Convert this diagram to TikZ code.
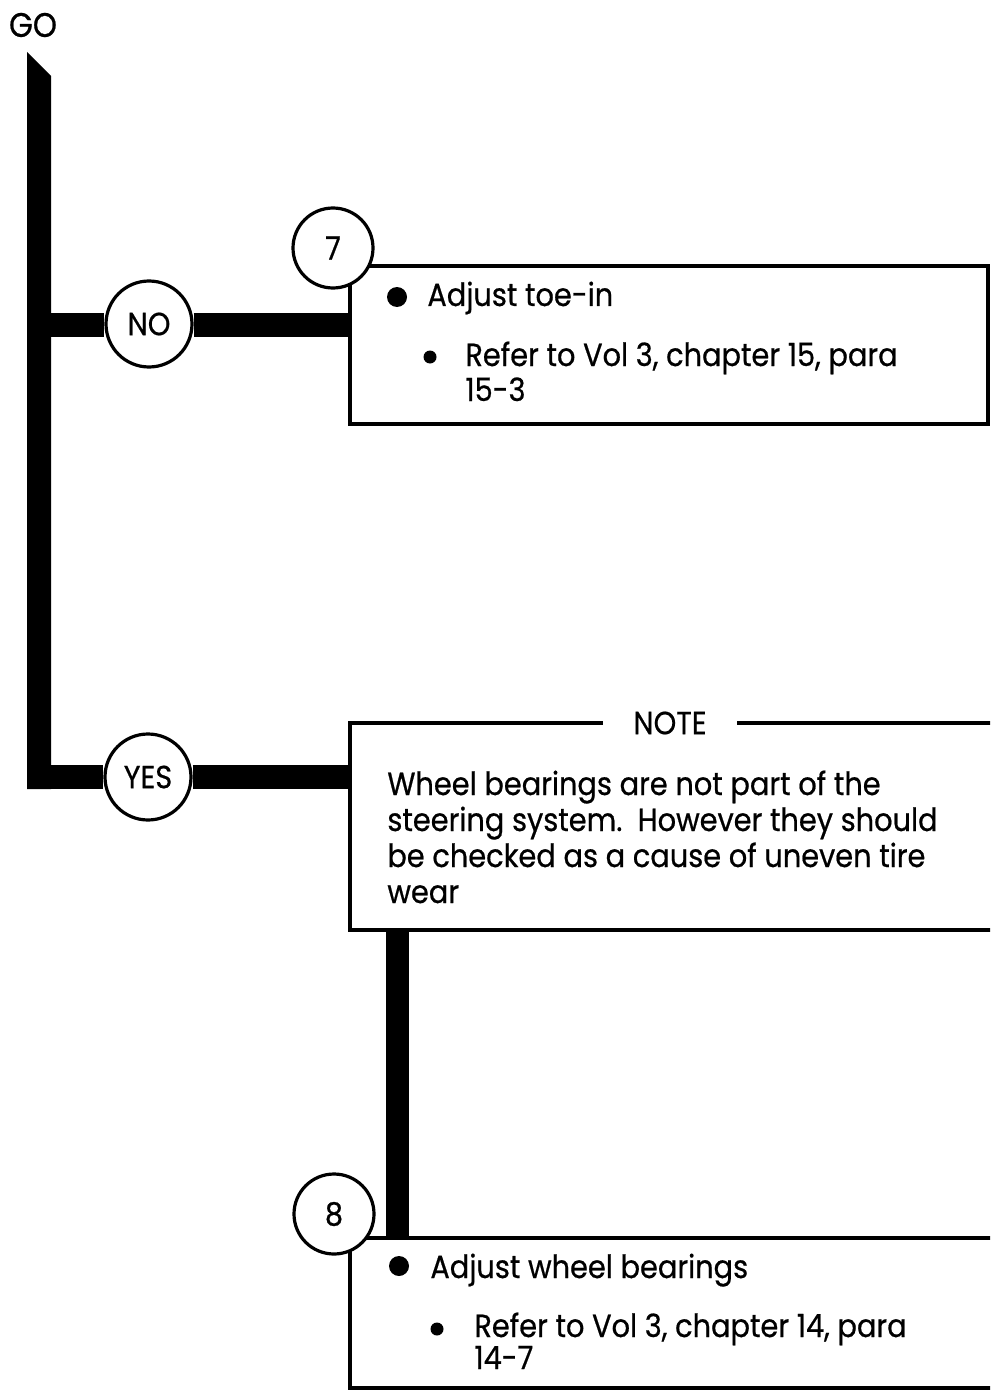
\documentclass[tikz,border=0pt]{standalone}
\usepackage{fontspec}
\setmainfont{Poppins}[FakeStretch=0.9, FakeBold=0.6]
\usetikzlibrary{positioning, backgrounds}

\newcommand{\chartfont}{\fontsize{16}{18}\selectfont}

\begin{document}
\begin{tikzpicture}[
    x=0.5pt, y=-0.5pt,
    bar/.style={line width=12pt},
    frame/.style={draw, line width=2pt, inner sep=0pt},
    tag/.style={circle, draw, line width=1.6pt, fill=white, minimum size=40pt, inner sep=0pt, font=\chartfont},
    txt/.style={anchor=base west, inner sep=0pt, font=\chartfont},
    bigdot/.style={circle, fill, inner sep=0pt, minimum size=10pt},
    smalldot/.style={circle, fill, inner sep=0pt, minimum size=6.5pt}
]
\clip (0,0) rectangle (990,1391);

% Start and main line
\node[font=\fontsize{17}{18}\selectfont, inner sep=0pt] (go) at (33,25) {GO};
\coordinate (trunktop) at (27,52);
\coordinate (trunkbend) at (51,76);
\coordinate (trunkfoot) at (27,789);
\fill (trunktop) -- (trunkbend) -- (trunkbend |- trunkfoot) -- (trunkfoot) -- cycle;

% Boxes
\node[frame, minimum width=319pt, minimum height=79pt] (box7) at (669,345) {};
\node[frame, minimum width=330pt, minimum height=103.5pt] (notebox) at (680,826.5) {};
\node[fill=white, inner xsep=15pt, inner ysep=3pt, font=\chartfont] (notelabel) at (670,723) {NOTE};
\node[frame, minimum width=330pt, minimum height=75pt] (box8) at (680,1313) {};

% Decisions
\node[tag, minimum size=43pt] (no) at (149,324) {NO};
\node[tag, minimum size=43pt] (yes) at (148,777) {YES};
\node[tag] (n7) at (333,248) {7};
\node[tag] (n8) at (334,1214) {8};

\begin{scope}[on background layer]
\coordinate (nojoin) at (39,325);
\coordinate (yesjoin) at (39,777);
\draw[bar] (nojoin) -- (nojoin -| no.west);
\draw[bar] (no.east |- nojoin) -- (nojoin -| box7.west);
\draw[bar] (yesjoin) -- (yes);
\draw[bar] (yes) -- (yes -| notebox.west);
\draw[line width=11.5pt] ([xshift=24.5pt]notebox.south west) -- ([xshift=24.5pt]notebox.south west |- box8.north);
\end{scope}

% Step 7
\node[bigdot] (dot7) at (397,297) {};
\node[txt] (act7) at (427,306) {Adjust toe-in};
\node[smalldot] (sub7) at (430,357) {};
\node[txt] (ref7) at (465,366) {Refer to Vol 3, chapter 15, para};
\node[txt] (ref7b) at ([yshift=-17.5pt]ref7.base west) {15-3};

% Note
\node[txt] (note1) at (387,795) {Wheel bearings are not part of the};
\node[txt] (note2) at ([yshift=-18pt]note1.base west) {steering system.~~However they should};
\node[txt] (note3) at ([yshift=-18pt]note2.base west) {be checked as a cause of uneven tire};
\node[txt] (note4) at ([yshift=-18pt]note3.base west) {wear};

% Step 8
\node[bigdot] (dot8) at (399,1266) {};
\node[txt] (act8) at (430,1278) {Adjust wheel bearings};
\node[smalldot] (sub8) at (437,1329) {};
\node[txt] (ref8) at (474,1337) {Refer to Vol 3, chapter 14, para};
\node[txt] (ref8b) at ([yshift=-16pt]ref8.base west) {14-7};
\end{tikzpicture}
\end{document}
